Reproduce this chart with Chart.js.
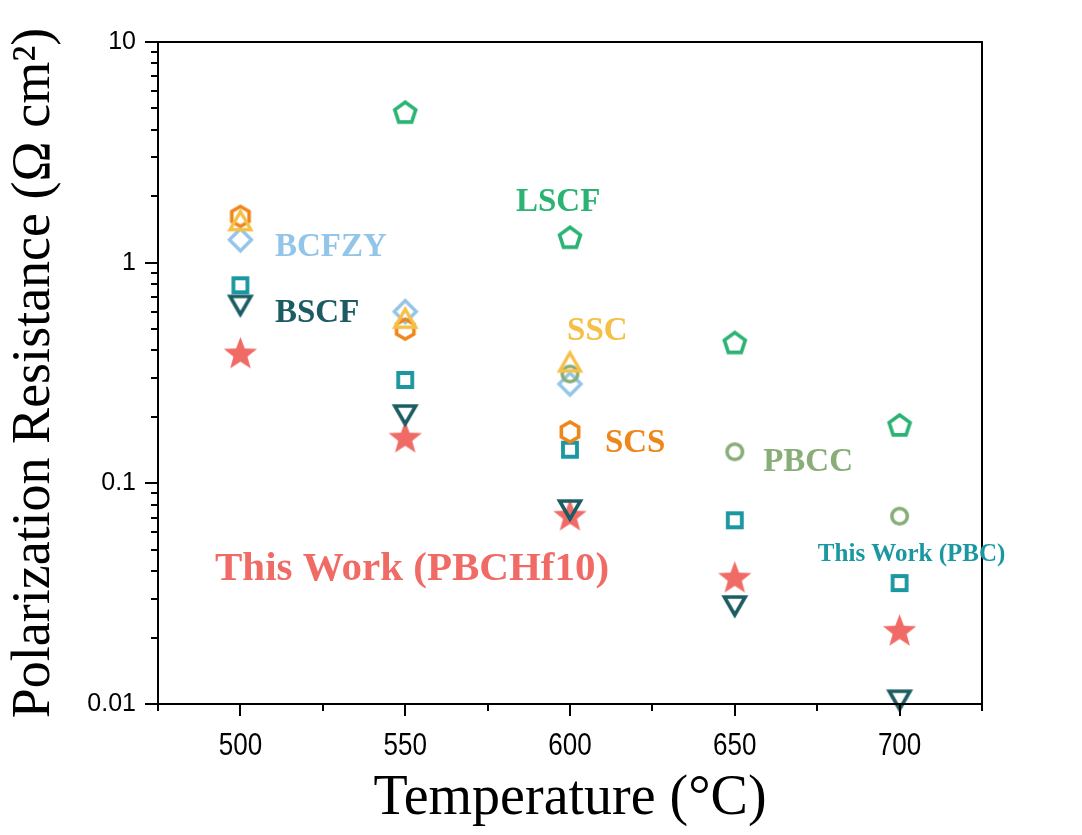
<!DOCTYPE html>
<html>
<head>
<meta charset="utf-8">
<script src="https://cdn.jsdelivr.net/npm/chart.js@4.4.1/dist/chart.umd.min.js"></script>
<style>
  body { margin: 0; background: #fff; }
</style>
</head>
<body>
<canvas id="rp-plot" width="1082" height="835"></canvas>
<script>
// Temperature (°C)
const temps = [500, 550, 600, 650, 700];

// Polarization resistance (ohm cm2), null = no point
const lscf    = [null, 4.76, 1.29, 0.43, 0.182];
const bcfzy   = [1.27, 0.60, 0.282, null, null];
const ssc     = [1.55, 0.56, 0.355, null, null];
const scs     = [1.62, 0.50, 0.171, null, null];
const pbcc    = [null, null, 0.313, 0.139, 0.071];
const pbc     = [0.79, 0.294, 0.142, 0.068, 0.0353];
const bscf    = [0.64, 0.204, 0.0757, 0.0278, 0.0104];
const pbchf10 = [0.39, 0.162, 0.0718, 0.0376, 0.0216];

const xTicks = [500, 550, 600, 650, 700];
const yTicks = [0.01, 0.1, 1, 10];

// little marker images, Chart.js accepts a canvas as pointStyle
function marker(shape, color, size, lw) {
  const c = document.createElement('canvas');
  const full = Math.ceil(size + lw * 2 + 4);
  c.width = c.height = full;
  const g = c.getContext('2d');
  const m = full / 2, r = size / 2;
  g.strokeStyle = color;
  g.fillStyle = color;
  g.lineWidth = lw;
  g.beginPath();
  if (shape === 'square') {
    g.rect(m - r, m - r, size, size);
  } else if (shape === 'circle') {
    g.arc(m, m, r, 0, Math.PI * 2);
  } else if (shape === 'star') {
    for (let i = 0; i < 10; i++) {
      const rr = i % 2 ? r * 0.42 : r;
      const a = -Math.PI / 2 + i * Math.PI / 5;
      g.lineTo(m + rr * Math.cos(a), m + r * 0.08 + rr * Math.sin(a));
    }
  } else {
    const sides = { up: 3, down: 3, diamond: 4, pentagon: 5, hexagon: 6 }[shape];
    const start = shape === 'down' ? Math.PI / 2 : -Math.PI / 2;
    const dy = shape === 'up' ? r * 0.25 : shape === 'down' ? -r * 0.25 : 0;
    for (let i = 0; i < sides; i++) {
      const a = start + i * 2 * Math.PI / sides;
      g.lineTo(m + r * Math.cos(a), m + dy + r * Math.sin(a));
    }
  }
  g.closePath();
  if (shape === 'star') g.fill(); else g.stroke();
  return c;
}

// first dataset is painted on top
const series = [
  { name: 'SSC',     vals: ssc,     style: marker('up', '#f6bf45', 24, 3.4) },
  { name: 'BSCF',    vals: bscf,    style: marker('down', '#1b5c62', 24, 3.6) },
  { name: 'PBCC',    vals: pbcc,    style: marker('circle', '#88ad78', 15.5, 3.6) },
  { name: 'SCS',     vals: scs,     style: marker('hexagon', '#ef8619', 20, 3.6) },
  { name: 'PBC',     vals: pbc,     style: marker('square', '#1a97a0', 14, 3.8) },
  { name: 'PBCHf10', vals: pbchf10, style: marker('star', '#f06b66', 35, 0) },
  { name: 'BCFZY',   vals: bcfzy,   style: marker('diamond', '#93c5e8', 22, 3.4) },
  { name: 'LSCF',    vals: lscf,    style: marker('pentagon', '#2bb374', 22, 3.6) }
];

// text notes placed in data units
const notes = [
  { text: 'BCFZY', t: 510.5, v: 1.17, color: '#93c5e8', size: 33 },
  { text: 'BSCF', t: 510.5, v: 0.59, color: '#1b5c62', size: 33 },
  { text: 'LSCF', t: 583.6, v: 1.88, color: '#2bb374', size: 33 },
  { text: 'SSC', t: 599.1, v: 0.49, color: '#f6bf45', size: 33 },
  { text: 'SCS', t: 610.6, v: 0.152, color: '#ef8619', size: 33 },
  { text: 'PBCC', t: 658.6, v: 0.124, color: '#88ad78', size: 33 },
  { text: 'This Work (PBC)', t: 675.2, v: 0.0478, color: '#1a97a0', size: 25 },
  { text: 'This Work (PBCHf10)', t: 492.3, v: 0.0408, color: '#f06b66', size: 41 }
];

const framePlugin = {
  id: 'frame',
  afterDraw(chart) {
    const { ctx, chartArea: a } = chart;
    const x = chart.scales.x, y = chart.scales.y;
    ctx.save();
    ctx.strokeStyle = '#000';
    ctx.lineWidth = 2;
    ctx.strokeRect(a.left, a.top, a.right - a.left, a.bottom - a.top);
    ctx.beginPath();
    for (let t = 475; t <= 725; t += 25) {
      const px = Math.round(x.getPixelForValue(t));
      ctx.moveTo(px, a.bottom);
      ctx.lineTo(px, a.bottom + (t % 50 === 0 ? 12 : 7));
    }
    for (const d of [0.01, 0.1, 1]) {
      for (let k = 1; k <= 10; k++) {
        const py = Math.round(y.getPixelForValue(d * k));
        ctx.moveTo(a.left, py);
        ctx.lineTo(a.left - (k === 1 || k === 10 ? 13 : 7), py);
      }
    }
    ctx.stroke();

    // x tick labels, condensed like the original
    ctx.fillStyle = '#000';
    ctx.textAlign = 'center';
    ctx.textBaseline = 'middle';
    ctx.font = '31px "Liberation Sans", Arial, sans-serif';
    for (const t of xTicks) {
      ctx.save();
      ctx.translate(x.getPixelForValue(t), a.bottom + 42);
      ctx.scale(0.84, 1);
      ctx.fillText(String(t), 0, 0);
      ctx.restore();
    }

    ctx.textAlign = 'left';
    for (const n of notes) {
      ctx.font = 'bold ' + n.size + 'px "Liberation Serif", "Times New Roman", serif';
      ctx.fillStyle = n.color;
      ctx.fillText(n.text, x.getPixelForValue(n.t), y.getPixelForValue(n.v));
    }
    ctx.restore();
  }
};

new Chart('rp-plot', {
  type: 'scatter',
  data: {
    datasets: series.map(s => ({
      label: s.name,
      data: temps.map((t, i) => ({ x: t, y: s.vals[i] })).filter(p => p.y !== null),
      pointStyle: s.style,
      pointRadius: 10,
      clip: false,
      showLine: false
    }))
  },
  options: {
    responsive: false,
    animation: false,
    events: [],
    layout: { padding: { top: 42, right: 100, bottom: 0, left: 0 } },
    plugins: {
      legend: { display: false },
      tooltip: { enabled: false }
    },
    scales: {
      x: {
        type: 'linear',
        min: 475,
        max: 725,
        afterBuildTicks: s => { s.ticks = xTicks.map(v => ({ value: v })); },
        afterFit: s => { s.height = 131; },
        grid: { display: false, drawTicks: false },
        border: { display: false },
        ticks: { display: false },
        title: {
          display: true,
          text: 'Temperature (°C)',
          color: '#000',
          padding: { top: 0, bottom: 2 },
          font: { family: '"Liberation Serif", "Times New Roman", serif', size: 56 }
        }
      },
      y: {
        type: 'logarithmic',
        min: 0.01,
        max: 10,
        afterBuildTicks: s => { s.ticks = yTicks.map(v => ({ value: v })); },
        afterFit: s => { s.width = 158; },
        grid: { display: false, drawTicks: false },
        border: { display: false },
        ticks: {
          color: '#000',
          padding: 22,
          callback: v => String(v),
          font: { family: '"Liberation Sans", Arial', size: 25 }
        },
        title: {
          display: true,
          text: 'Polarization Resistance (Ω cm²)',
          color: '#000',
          padding: { top: 2, bottom: 0 },
          font: { family: '"Liberation Serif", "Times New Roman", serif', size: 54 }
        }
      }
    }
  },
  plugins: [framePlugin]
});
</script>
</body>
</html>
